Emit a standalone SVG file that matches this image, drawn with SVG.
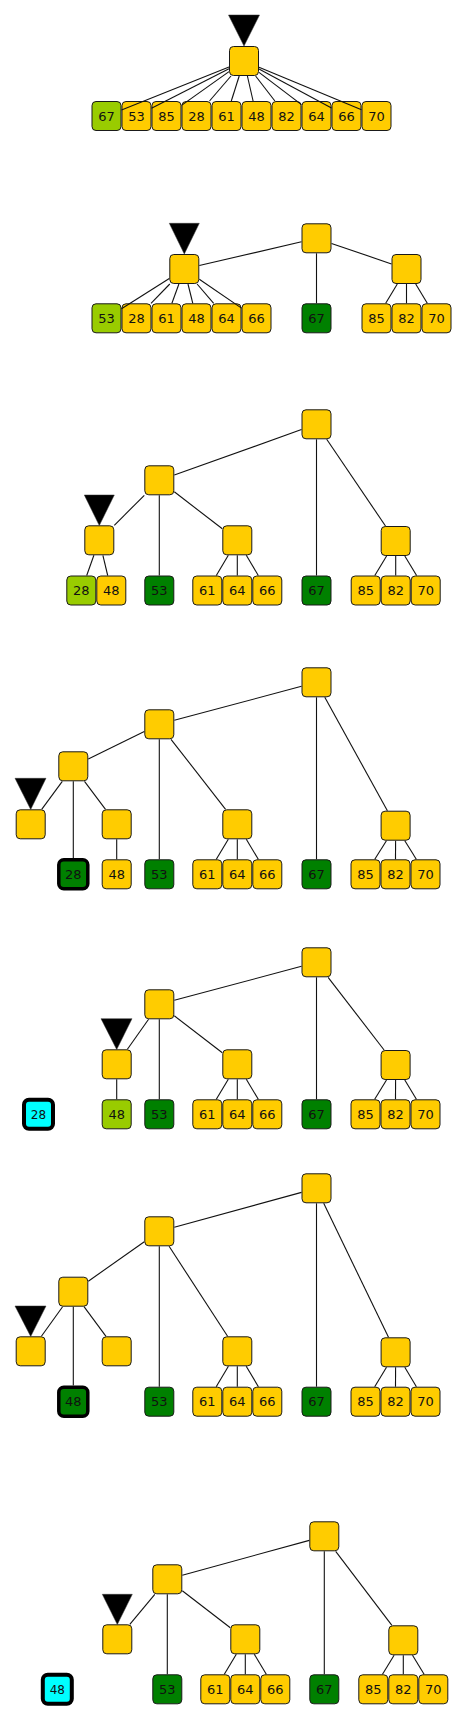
<svg xmlns="http://www.w3.org/2000/svg" width="466" height="1720" viewBox="0 0 466 1720">
<style>
rect.b{stroke:#1a1a1a;stroke-width:1}
.y rect{fill:#ffcc00}
.lg rect{fill:#99cc00}
.dg rect{fill:#008000}
.dgb rect{fill:#008000;stroke:#000;stroke-width:3.5}
.cy rect{fill:#00ffff;stroke:#000;stroke-width:4}
text{font-family:"DejaVu Sans","Liberation Sans",sans-serif;font-size:13px;text-anchor:middle;fill:#111}
.edges line{stroke:#111;stroke-width:1.1}
.ptr{fill:#000;stroke:#333;stroke-width:0.5}
</style>
<rect width="466" height="1720" fill="#fff"/>

<!-- Panel 1 -->
<g id="p1">
<g id="p1-67" class="lg" transform="translate(106.5,116)"><rect class="b" x="-14.5" y="-14.5" width="29" height="29" rx="4"/><text y="4.7">67</text></g>
<g id="p1-53" class="y" transform="translate(136.5,116)"><rect class="b" x="-14.5" y="-14.5" width="29" height="29" rx="4"/><text y="4.7">53</text></g>
<g id="p1-85" class="y" transform="translate(166.5,116)"><rect class="b" x="-14.5" y="-14.5" width="29" height="29" rx="4"/><text y="4.7">85</text></g>
<g id="p1-28" class="y" transform="translate(196.5,116)"><rect class="b" x="-14.5" y="-14.5" width="29" height="29" rx="4"/><text y="4.7">28</text></g>
<g id="p1-61" class="y" transform="translate(226.5,116)"><rect class="b" x="-14.5" y="-14.5" width="29" height="29" rx="4"/><text y="4.7">61</text></g>
<g id="p1-48" class="y" transform="translate(256.5,116)"><rect class="b" x="-14.5" y="-14.5" width="29" height="29" rx="4"/><text y="4.7">48</text></g>
<g id="p1-82" class="y" transform="translate(286.5,116)"><rect class="b" x="-14.5" y="-14.5" width="29" height="29" rx="4"/><text y="4.7">82</text></g>
<g id="p1-64" class="y" transform="translate(316.5,116)"><rect class="b" x="-14.5" y="-14.5" width="29" height="29" rx="4"/><text y="4.7">64</text></g>
<g id="p1-66" class="y" transform="translate(346.5,116)"><rect class="b" x="-14.5" y="-14.5" width="29" height="29" rx="4"/><text y="4.7">66</text></g>
<g id="p1-70" class="y" transform="translate(376.5,116)"><rect class="b" x="-14.5" y="-14.5" width="29" height="29" rx="4"/><text y="4.7">70</text></g>
<g id="p1-root" class="y" transform="translate(244,61)"><rect class="b" x="-14.5" y="-14.5" width="29" height="29" rx="4"/></g>
</g>

<!-- Panel 2 -->
<g id="p2">
<g id="p2-root" class="y" transform="translate(316.5,238.3)"><rect class="b" x="-14.5" y="-14.5" width="29" height="29" rx="4"/></g>
<g id="p2-l" class="y" transform="translate(184.3,269)"><rect class="b" x="-14.5" y="-14.5" width="29" height="29" rx="4"/></g>
<g id="p2-r" class="y" transform="translate(406.5,269)"><rect class="b" x="-14.5" y="-14.5" width="29" height="29" rx="4"/></g>
<g id="p2-53" class="lg" transform="translate(106.5,318.3)"><rect class="b" x="-14.5" y="-14.5" width="29" height="29" rx="4"/><text y="4.7">53</text></g>
<g id="p2-28" class="y" transform="translate(136.5,318.3)"><rect class="b" x="-14.5" y="-14.5" width="29" height="29" rx="4"/><text y="4.7">28</text></g>
<g id="p2-61" class="y" transform="translate(166.5,318.3)"><rect class="b" x="-14.5" y="-14.5" width="29" height="29" rx="4"/><text y="4.7">61</text></g>
<g id="p2-48" class="y" transform="translate(196.5,318.3)"><rect class="b" x="-14.5" y="-14.5" width="29" height="29" rx="4"/><text y="4.7">48</text></g>
<g id="p2-64" class="y" transform="translate(226.5,318.3)"><rect class="b" x="-14.5" y="-14.5" width="29" height="29" rx="4"/><text y="4.7">64</text></g>
<g id="p2-66" class="y" transform="translate(256.5,318.3)"><rect class="b" x="-14.5" y="-14.5" width="29" height="29" rx="4"/><text y="4.7">66</text></g>
<g id="p2-67" class="dg" transform="translate(316.5,318.3)"><rect class="b" x="-14.5" y="-14.5" width="29" height="29" rx="4"/><text y="4.7">67</text></g>
<g id="p2-85" class="y" transform="translate(376.5,318.3)"><rect class="b" x="-14.5" y="-14.5" width="29" height="29" rx="4"/><text y="4.7">85</text></g>
<g id="p2-82" class="y" transform="translate(406.5,318.3)"><rect class="b" x="-14.5" y="-14.5" width="29" height="29" rx="4"/><text y="4.7">82</text></g>
<g id="p2-70" class="y" transform="translate(436.5,318.3)"><rect class="b" x="-14.5" y="-14.5" width="29" height="29" rx="4"/><text y="4.7">70</text></g>
</g>

<!-- Panel 3 -->
<g id="p3">
<g id="p3-root" class="y" transform="translate(316.5,424.3)"><rect class="b" x="-14.5" y="-14.5" width="29" height="29" rx="4"/></g>
<g id="p3-a" class="y" transform="translate(159.3,480.3)"><rect class="b" x="-14.5" y="-14.5" width="29" height="29" rx="4"/></g>
<g id="p3-b" class="y" transform="translate(99.3,540.3)"><rect class="b" x="-14.5" y="-14.5" width="29" height="29" rx="4"/></g>
<g id="p3-c" class="y" transform="translate(237.3,540.3)"><rect class="b" x="-14.5" y="-14.5" width="29" height="29" rx="4"/></g>
<g id="p3-d" class="y" transform="translate(395.7,541)"><rect class="b" x="-14.5" y="-14.5" width="29" height="29" rx="4"/></g>
<g id="p3-28" class="lg" transform="translate(81.3,590.5)"><rect class="b" x="-14.5" y="-14.5" width="29" height="29" rx="4"/><text y="4.7">28</text></g>
<g id="p3-48" class="y" transform="translate(111.3,590.5)"><rect class="b" x="-14.5" y="-14.5" width="29" height="29" rx="4"/><text y="4.7">48</text></g>
<g id="p3-53" class="dg" transform="translate(159.3,590.5)"><rect class="b" x="-14.5" y="-14.5" width="29" height="29" rx="4"/><text y="4.7">53</text></g>
<g id="p3-61" class="y" transform="translate(207.3,590.5)"><rect class="b" x="-14.5" y="-14.5" width="29" height="29" rx="4"/><text y="4.7">61</text></g>
<g id="p3-64" class="y" transform="translate(237.3,590.5)"><rect class="b" x="-14.5" y="-14.5" width="29" height="29" rx="4"/><text y="4.7">64</text></g>
<g id="p3-66" class="y" transform="translate(267.3,590.5)"><rect class="b" x="-14.5" y="-14.5" width="29" height="29" rx="4"/><text y="4.7">66</text></g>
<g id="p3-67" class="dg" transform="translate(316.5,590.5)"><rect class="b" x="-14.5" y="-14.5" width="29" height="29" rx="4"/><text y="4.7">67</text></g>
<g id="p3-85" class="y" transform="translate(365.7,590.5)"><rect class="b" x="-14.5" y="-14.5" width="29" height="29" rx="4"/><text y="4.7">85</text></g>
<g id="p3-82" class="y" transform="translate(395.7,590.5)"><rect class="b" x="-14.5" y="-14.5" width="29" height="29" rx="4"/><text y="4.7">82</text></g>
<g id="p3-70" class="y" transform="translate(425.7,590.5)"><rect class="b" x="-14.5" y="-14.5" width="29" height="29" rx="4"/><text y="4.7">70</text></g>
</g>

<!-- Panel 4 -->
<g id="p4">
<g id="p4-root" class="y" transform="translate(316.5,682.3)"><rect class="b" x="-14.5" y="-14.5" width="29" height="29" rx="4"/></g>
<g id="p4-a" class="y" transform="translate(159.3,724.3)"><rect class="b" x="-14.5" y="-14.5" width="29" height="29" rx="4"/></g>
<g id="p4-e" class="y" transform="translate(73.3,766.3)"><rect class="b" x="-14.5" y="-14.5" width="29" height="29" rx="4"/></g>
<g id="p4-f" class="y" transform="translate(30.7,824.3)"><rect class="b" x="-14.5" y="-14.5" width="29" height="29" rx="4"/></g>
<g id="p4-g" class="y" transform="translate(116.7,824.3)"><rect class="b" x="-14.5" y="-14.5" width="29" height="29" rx="4"/></g>
<g id="p4-c" class="y" transform="translate(237.3,824.3)"><rect class="b" x="-14.5" y="-14.5" width="29" height="29" rx="4"/></g>
<g id="p4-d" class="y" transform="translate(395.6,825.7)"><rect class="b" x="-14.5" y="-14.5" width="29" height="29" rx="4"/></g>
<g id="p4-28" class="dgb" transform="translate(73.3,874.3)"><rect x="-14.5" y="-14.5" width="29" height="29" rx="5"/><text y="4.7">28</text></g>
<g id="p4-48" class="y" transform="translate(116.7,874.3)"><rect class="b" x="-14.5" y="-14.5" width="29" height="29" rx="4"/><text y="4.7">48</text></g>
<g id="p4-53" class="dg" transform="translate(159.3,874.3)"><rect class="b" x="-14.5" y="-14.5" width="29" height="29" rx="4"/><text y="4.7">53</text></g>
<g id="p4-61" class="y" transform="translate(207.3,874.3)"><rect class="b" x="-14.5" y="-14.5" width="29" height="29" rx="4"/><text y="4.7">61</text></g>
<g id="p4-64" class="y" transform="translate(237.3,874.3)"><rect class="b" x="-14.5" y="-14.5" width="29" height="29" rx="4"/><text y="4.7">64</text></g>
<g id="p4-66" class="y" transform="translate(267.3,874.3)"><rect class="b" x="-14.5" y="-14.5" width="29" height="29" rx="4"/><text y="4.7">66</text></g>
<g id="p4-67" class="dg" transform="translate(316.5,874.3)"><rect class="b" x="-14.5" y="-14.5" width="29" height="29" rx="4"/><text y="4.7">67</text></g>
<g id="p4-85" class="y" transform="translate(365.5,874.3)"><rect class="b" x="-14.5" y="-14.5" width="29" height="29" rx="4"/><text y="4.7">85</text></g>
<g id="p4-82" class="y" transform="translate(395.5,874.3)"><rect class="b" x="-14.5" y="-14.5" width="29" height="29" rx="4"/><text y="4.7">82</text></g>
<g id="p4-70" class="y" transform="translate(425.5,874.3)"><rect class="b" x="-14.5" y="-14.5" width="29" height="29" rx="4"/><text y="4.7">70</text></g>
</g>

<!-- Panel 5 -->
<g id="p5">
<g id="p5-root" class="y" transform="translate(316.5,962.3)"><rect class="b" x="-14.5" y="-14.5" width="29" height="29" rx="4"/></g>
<g id="p5-a" class="y" transform="translate(159.3,1004.3)"><rect class="b" x="-14.5" y="-14.5" width="29" height="29" rx="4"/></g>
<g id="p5-g" class="y" transform="translate(116.7,1064.3)"><rect class="b" x="-14.5" y="-14.5" width="29" height="29" rx="4"/></g>
<g id="p5-c" class="y" transform="translate(237.3,1064.3)"><rect class="b" x="-14.5" y="-14.5" width="29" height="29" rx="4"/></g>
<g id="p5-d" class="y" transform="translate(395.6,1065)"><rect class="b" x="-14.5" y="-14.5" width="29" height="29" rx="4"/></g>
<g id="p5-28" class="cy" transform="translate(38.5,1114.3)"><rect x="-14.5" y="-14.5" width="29" height="29" rx="5"/><text y="4.3" style="font-size:12px">28</text></g>
<g id="p5-48" class="lg" transform="translate(116.7,1114.3)"><rect class="b" x="-14.5" y="-14.5" width="29" height="29" rx="4"/><text y="4.7">48</text></g>
<g id="p5-53" class="dg" transform="translate(159.3,1114.3)"><rect class="b" x="-14.5" y="-14.5" width="29" height="29" rx="4"/><text y="4.7">53</text></g>
<g id="p5-61" class="y" transform="translate(207.3,1114.3)"><rect class="b" x="-14.5" y="-14.5" width="29" height="29" rx="4"/><text y="4.7">61</text></g>
<g id="p5-64" class="y" transform="translate(237.3,1114.3)"><rect class="b" x="-14.5" y="-14.5" width="29" height="29" rx="4"/><text y="4.7">64</text></g>
<g id="p5-66" class="y" transform="translate(267.3,1114.3)"><rect class="b" x="-14.5" y="-14.5" width="29" height="29" rx="4"/><text y="4.7">66</text></g>
<g id="p5-67" class="dg" transform="translate(316.5,1114.3)"><rect class="b" x="-14.5" y="-14.5" width="29" height="29" rx="4"/><text y="4.7">67</text></g>
<g id="p5-85" class="y" transform="translate(365.5,1114.3)"><rect class="b" x="-14.5" y="-14.5" width="29" height="29" rx="4"/><text y="4.7">85</text></g>
<g id="p5-82" class="y" transform="translate(395.5,1114.3)"><rect class="b" x="-14.5" y="-14.5" width="29" height="29" rx="4"/><text y="4.7">82</text></g>
<g id="p5-70" class="y" transform="translate(425.5,1114.3)"><rect class="b" x="-14.5" y="-14.5" width="29" height="29" rx="4"/><text y="4.7">70</text></g>
</g>

<!-- Panel 6 -->
<g id="p6">
<g id="p6-root" class="y" transform="translate(316.5,1188.3)"><rect class="b" x="-14.5" y="-14.5" width="29" height="29" rx="4"/></g>
<g id="p6-a" class="y" transform="translate(159.3,1231.3)"><rect class="b" x="-14.5" y="-14.5" width="29" height="29" rx="4"/></g>
<g id="p6-e" class="y" transform="translate(73.3,1291.7)"><rect class="b" x="-14.5" y="-14.5" width="29" height="29" rx="4"/></g>
<g id="p6-f" class="y" transform="translate(30.7,1351.3)"><rect class="b" x="-14.5" y="-14.5" width="29" height="29" rx="4"/></g>
<g id="p6-g" class="y" transform="translate(116.7,1351.3)"><rect class="b" x="-14.5" y="-14.5" width="29" height="29" rx="4"/></g>
<g id="p6-c" class="y" transform="translate(237.3,1351.3)"><rect class="b" x="-14.5" y="-14.5" width="29" height="29" rx="4"/></g>
<g id="p6-d" class="y" transform="translate(395.6,1352.3)"><rect class="b" x="-14.5" y="-14.5" width="29" height="29" rx="4"/></g>
<g id="p6-48" class="dgb" transform="translate(73.3,1401.7)"><rect x="-14.5" y="-14.5" width="29" height="29" rx="5"/><text y="4.7">48</text></g>
<g id="p6-53" class="dg" transform="translate(159.3,1401.7)"><rect class="b" x="-14.5" y="-14.5" width="29" height="29" rx="4"/><text y="4.7">53</text></g>
<g id="p6-61" class="y" transform="translate(207.3,1401.7)"><rect class="b" x="-14.5" y="-14.5" width="29" height="29" rx="4"/><text y="4.7">61</text></g>
<g id="p6-64" class="y" transform="translate(237.3,1401.7)"><rect class="b" x="-14.5" y="-14.5" width="29" height="29" rx="4"/><text y="4.7">64</text></g>
<g id="p6-66" class="y" transform="translate(267.3,1401.7)"><rect class="b" x="-14.5" y="-14.5" width="29" height="29" rx="4"/><text y="4.7">66</text></g>
<g id="p6-67" class="dg" transform="translate(316.5,1401.7)"><rect class="b" x="-14.5" y="-14.5" width="29" height="29" rx="4"/><text y="4.7">67</text></g>
<g id="p6-85" class="y" transform="translate(365.5,1401.7)"><rect class="b" x="-14.5" y="-14.5" width="29" height="29" rx="4"/><text y="4.7">85</text></g>
<g id="p6-82" class="y" transform="translate(395.5,1401.7)"><rect class="b" x="-14.5" y="-14.5" width="29" height="29" rx="4"/><text y="4.7">82</text></g>
<g id="p6-70" class="y" transform="translate(425.5,1401.7)"><rect class="b" x="-14.5" y="-14.5" width="29" height="29" rx="4"/><text y="4.7">70</text></g>
</g>

<!-- Panel 7 -->
<g id="p7">
<g id="p7-root" class="y" transform="translate(324.3,1536.3)"><rect class="b" x="-14.5" y="-14.5" width="29" height="29" rx="4"/></g>
<g id="p7-a" class="y" transform="translate(167.3,1579.3)"><rect class="b" x="-14.5" y="-14.5" width="29" height="29" rx="4"/></g>
<g id="p7-g" class="y" transform="translate(117.3,1639.3)"><rect class="b" x="-14.5" y="-14.5" width="29" height="29" rx="4"/></g>
<g id="p7-c" class="y" transform="translate(245.3,1639.3)"><rect class="b" x="-14.5" y="-14.5" width="29" height="29" rx="4"/></g>
<g id="p7-d" class="y" transform="translate(403.3,1640.3)"><rect class="b" x="-14.5" y="-14.5" width="29" height="29" rx="4"/></g>
<g id="p7-48" class="cy" transform="translate(57.3,1689.3)"><rect x="-14.5" y="-14.5" width="29" height="29" rx="5"/><text y="4.3" style="font-size:12px">48</text></g>
<g id="p7-53" class="dg" transform="translate(167.3,1689.3)"><rect class="b" x="-14.5" y="-14.5" width="29" height="29" rx="4"/><text y="4.7">53</text></g>
<g id="p7-61" class="y" transform="translate(215.3,1689.3)"><rect class="b" x="-14.5" y="-14.5" width="29" height="29" rx="4"/><text y="4.7">61</text></g>
<g id="p7-64" class="y" transform="translate(245.3,1689.3)"><rect class="b" x="-14.5" y="-14.5" width="29" height="29" rx="4"/><text y="4.7">64</text></g>
<g id="p7-66" class="y" transform="translate(275.3,1689.3)"><rect class="b" x="-14.5" y="-14.5" width="29" height="29" rx="4"/><text y="4.7">66</text></g>
<g id="p7-67" class="dg" transform="translate(324.3,1689.3)"><rect class="b" x="-14.5" y="-14.5" width="29" height="29" rx="4"/><text y="4.7">67</text></g>
<g id="p7-85" class="y" transform="translate(373.3,1689.3)"><rect class="b" x="-14.5" y="-14.5" width="29" height="29" rx="4"/><text y="4.7">85</text></g>
<g id="p7-82" class="y" transform="translate(403.3,1689.3)"><rect class="b" x="-14.5" y="-14.5" width="29" height="29" rx="4"/><text y="4.7">82</text></g>
<g id="p7-70" class="y" transform="translate(433.3,1689.3)"><rect class="b" x="-14.5" y="-14.5" width="29" height="29" rx="4"/><text y="4.7">70</text></g>
</g>

<!-- Connectors -->
<g id="edges" class="edges">
<line x1="229" y1="67" x2="121.5" y2="110"/>
<line x1="229" y1="68.7" x2="151.5" y2="108.3"/>
<line x1="229" y1="71.6" x2="181.5" y2="105.4"/>
<line x1="231" y1="76" x2="209.5" y2="101"/>
<line x1="239.2" y1="76" x2="231.3" y2="101"/>
<line x1="247.4" y1="76" x2="253.1" y2="101"/>
<line x1="255.6" y1="76" x2="274.9" y2="101"/>
<line x1="259" y1="72.4" x2="301.5" y2="104.6"/>
<line x1="259" y1="69" x2="331.5" y2="108"/>
<line x1="259" y1="67.2" x2="361.5" y2="109.8"/>

<line x1="301.5" y1="241.8" x2="199.3" y2="265.5"/>
<line x1="316.5" y1="253.3" x2="316.5" y2="303.3"/>
<line x1="331.5" y1="243.4" x2="391.5" y2="263.9"/>
<line x1="169.3" y1="278.5" x2="121.5" y2="308.8"/>
<line x1="169.8" y1="284" x2="151" y2="303.3"/>
<line x1="178.9" y1="284" x2="171.9" y2="303.3"/>
<line x1="188" y1="284" x2="192.8" y2="303.3"/>
<line x1="197.1" y1="284" x2="213.7" y2="303.3"/>
<line x1="199.3" y1="279.2" x2="241.5" y2="308.1"/>
<line x1="397.3" y1="284" x2="385.7" y2="303.3"/>
<line x1="406.5" y1="284" x2="406.5" y2="303.3"/>
<line x1="415.7" y1="284" x2="427.3" y2="303.3"/>

<line x1="301.5" y1="429.6" x2="174.3" y2="475"/>
<line x1="316.5" y1="439.3" x2="316.5" y2="575.5"/>
<line x1="326.7" y1="439.3" x2="385.5" y2="526"/>
<line x1="144.3" y1="495.3" x2="114.3" y2="525.3"/>
<line x1="159.3" y1="495.3" x2="159.3" y2="575.5"/>
<line x1="174.3" y1="491.8" x2="222.3" y2="528.8"/>
<line x1="93.9" y1="555.3" x2="86.7" y2="575.5"/>
<line x1="102.9" y1="555.3" x2="107.7" y2="575.5"/>
<line x1="228.3" y1="555.3" x2="216.3" y2="575.5"/>
<line x1="237.3" y1="555.3" x2="237.3" y2="575.5"/>
<line x1="246.3" y1="555.3" x2="258.3" y2="575.5"/>
<line x1="386.6" y1="556" x2="374.8" y2="575.5"/>
<line x1="395.7" y1="556" x2="395.7" y2="575.5"/>
<line x1="404.8" y1="556" x2="416.6" y2="575.5"/>

<line x1="301.5" y1="686.3" x2="174.3" y2="720.3"/>
<line x1="316.5" y1="697.3" x2="316.5" y2="859.3"/>
<line x1="324.8" y1="697.3" x2="387.4" y2="810.7"/>
<line x1="144.3" y1="731.6" x2="88.3" y2="759"/>
<line x1="159.3" y1="739.3" x2="159.3" y2="859.3"/>
<line x1="171" y1="739.3" x2="225.6" y2="809.3"/>
<line x1="62.3" y1="781.3" x2="41.7" y2="809.3"/>
<line x1="73.3" y1="781.3" x2="73.3" y2="858"/>
<line x1="84.5" y1="781.3" x2="105.5" y2="809.3"/>
<line x1="116.7" y1="839.3" x2="116.7" y2="859.3"/>
<line x1="228.3" y1="839.3" x2="216.3" y2="859.3"/>
<line x1="237.3" y1="839.3" x2="237.3" y2="859.3"/>
<line x1="246.3" y1="839.3" x2="258.3" y2="859.3"/>
<line x1="386.4" y1="840.7" x2="374.8" y2="859.3"/>
<line x1="395.6" y1="840.7" x2="395.5" y2="859.3"/>
<line x1="404.8" y1="840.7" x2="416.3" y2="859.3"/>

<line x1="301.5" y1="966.3" x2="174.3" y2="1000.3"/>
<line x1="316.5" y1="977.3" x2="316.5" y2="1099.3"/>
<line x1="328.1" y1="977.3" x2="384.1" y2="1050"/>
<line x1="148.6" y1="1019.3" x2="127.4" y2="1049.3"/>
<line x1="159.3" y1="1019.3" x2="159.3" y2="1099.3"/>
<line x1="174.3" y1="1015.8" x2="222.3" y2="1052.8"/>
<line x1="116.7" y1="1079.3" x2="116.7" y2="1099.3"/>
<line x1="228.3" y1="1079.3" x2="216.3" y2="1099.3"/>
<line x1="237.3" y1="1079.3" x2="237.3" y2="1099.3"/>
<line x1="246.3" y1="1079.3" x2="258.3" y2="1099.3"/>
<line x1="386.5" y1="1080" x2="374.7" y2="1099.3"/>
<line x1="395.6" y1="1080" x2="395.5" y2="1099.3"/>
<line x1="404.8" y1="1080" x2="416.4" y2="1099.3"/>

<line x1="301.5" y1="1192.4" x2="174.3" y2="1227.2"/>
<line x1="316.5" y1="1203.3" x2="316.5" y2="1386.7"/>
<line x1="323.7" y1="1203.3" x2="388.5" y2="1337.3"/>
<line x1="144.3" y1="1241.8" x2="88.3" y2="1281.2"/>
<line x1="159.3" y1="1246.3" x2="159.3" y2="1386.7"/>
<line x1="169.1" y1="1246.3" x2="227.6" y2="1336.3"/>
<line x1="62.6" y1="1306.7" x2="41.4" y2="1336.3"/>
<line x1="73.3" y1="1306.7" x2="73.3" y2="1385.5"/>
<line x1="84" y1="1306.7" x2="106" y2="1336.3"/>
<line x1="228.4" y1="1366.3" x2="216.2" y2="1386.7"/>
<line x1="237.3" y1="1366.3" x2="237.3" y2="1386.7"/>
<line x1="246.2" y1="1366.3" x2="258.4" y2="1386.7"/>
<line x1="386.5" y1="1367.3" x2="374.7" y2="1386.7"/>
<line x1="395.6" y1="1367.3" x2="395.5" y2="1386.7"/>
<line x1="404.8" y1="1367.3" x2="416.4" y2="1386.7"/>

<line x1="309.3" y1="1540.4" x2="182.3" y2="1575.2"/>
<line x1="324.3" y1="1551.3" x2="324.3" y2="1674.3"/>
<line x1="335.7" y1="1551.3" x2="391.9" y2="1625.3"/>
<line x1="154.8" y1="1594.3" x2="129.8" y2="1624.3"/>
<line x1="167.3" y1="1594.3" x2="167.3" y2="1674.3"/>
<line x1="182.3" y1="1590.8" x2="230.3" y2="1627.8"/>
<line x1="236.3" y1="1654.3" x2="224.3" y2="1674.3"/>
<line x1="245.3" y1="1654.3" x2="245.3" y2="1674.3"/>
<line x1="254.3" y1="1654.3" x2="266.3" y2="1674.3"/>
<line x1="394.1" y1="1655.3" x2="382.5" y2="1674.3"/>
<line x1="403.3" y1="1655.3" x2="403.3" y2="1674.3"/>
<line x1="412.5" y1="1655.3" x2="424.1" y2="1674.3"/>
</g>

<!-- Pointers -->
<g id="pointers">
<polygon class="ptr" points="228.5,15 259.5,15 244,46"/>
<polygon class="ptr" points="169.3,223.3 199.3,223.3 184.3,254"/>
<polygon class="ptr" points="84.3,495 114.3,495 99.3,525.5"/>
<polygon class="ptr" points="15,778.3 46,778.3 30.7,809.5"/>
<polygon class="ptr" points="101,1018.7 132,1018.7 116.7,1049.5"/>
<polygon class="ptr" points="15,1306 46,1306 30.7,1336.5"/>
<polygon class="ptr" points="102.3,1594.3 132.3,1594.3 117.3,1624.5"/>
</g>
</svg>
